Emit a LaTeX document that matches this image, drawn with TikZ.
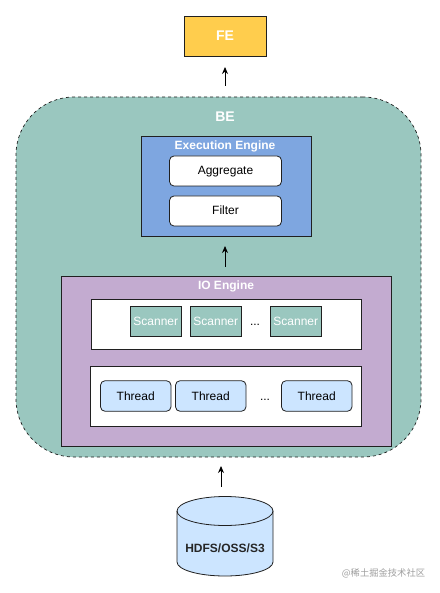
\documentclass[tikz,border=0pt]{standalone}
\usepackage{fontspec}
\setmainfont{Liberation Sans}
\newfontfamily\cjkwm{Noto Sans CJK SC}
\usetikzlibrary{arrows.meta}
\definecolor{feY}{HTML}{FFCD4D}
\definecolor{beG}{HTML}{9AC7BF}
\definecolor{exB}{HTML}{7EA6E0}
\definecolor{ioP}{HTML}{C3ABD0}
\definecolor{thB}{HTML}{CCE5FF}
\definecolor{edgeC}{HTML}{202020}
\tikzset{
  box/.style={draw=edgeC,line width=0.8pt,inner sep=0pt,outer sep=0pt,font=\fontsize{12}{14}\selectfont,text=black},
  title/.style={inner sep=0pt,text=white,font=\bfseries\fontsize{12}{14}\selectfont},
  rbox/.style={box,fill=white,rounded corners=4.5pt,minimum width=112pt,minimum height=30pt,text height=8.6pt,text depth=2.5pt},
  scan/.style={box,fill=beG,text=white,minimum width=50.5pt,minimum height=30pt},
  thr/.style={box,fill=thB,rounded corners=4.5pt,minimum width=70.5pt,minimum height=30.5pt},
  dots/.style={inner sep=0pt,font=\fontsize{12}{14}\selectfont},
  link/.style={-{Stealth[length=7pt,width=6pt]},line width=0.9pt,draw=black},
}
\begin{document}
\begin{tikzpicture}[x=1pt,y=-1pt]
\useasboundingbox (0,0) rectangle (439,593);
% FE
\node[box,fill=feY,minimum width=82pt,minimum height=40pt,text=white,font=\bfseries\fontsize{14}{16}\selectfont] (fe) at (225,36) {FE};
% BE
\node[box,fill=beG,dashed,minimum width=405pt,minimum height=360pt,rounded corners=58pt,line width=0.7pt] (be) at (218.5,277) {};
\node[title,font=\bfseries\fontsize{14}{16}\selectfont] (belabel) at (225,116.5) {BE};
% Execution engine
\node[box,fill=exB,minimum width=170pt,minimum height=100pt] (exec) at (226,186) {};
\node[title] (exlabel) at (225,146) {Execution Engine};
\node[rbox] (agg) at (225.5,171) {Aggregate};
\node[rbox] (fil) at (225.5,211) {Filter};
% IO engine
\node[box,fill=ioP,minimum width=330pt,minimum height=170pt] (io) at (226.5,361.5) {};
\node[title] (iolabel) at (226,286) {IO Engine};
\node[box,fill=white,minimum width=270pt,minimum height=50pt] (sbox) at (226.5,324) {};
\node[scan] (s1) at (155.75,321.5) {Scanner};
\node[scan] (s2) at (215.75,321.5) {Scanner};
\node[dots] (sd) at (255,325) {...};
\node[scan] (s3) at (295.75,321.5) {Scanner};
\node[box,fill=white,minimum width=271pt,minimum height=60pt] (tbox) at (226,396.5) {};
\node[thr] (t1) at (135.75,396) {Thread};
\node[thr] (t2) at (210.75,396) {Thread};
\node[dots] (td) at (265,400) {...};
\node[thr] (t3) at (316.75,396) {Thread};
% Storage cylinder
\draw[draw=edgeC,line width=0.8pt,fill=thB] (177,511) -- (177,562) arc[start angle=180,end angle=360,x radius=48pt,y radius=14pt] -- (273,511) arc[start angle=0,end angle=180,x radius=48pt,y radius=14.5pt] -- cycle;
\draw[draw=edgeC,line width=0.8pt] (177,511) arc[start angle=180,end angle=360,x radius=48pt,y radius=14.5pt];
\coordinate (dbtop) at (225,496.5);
\node[inner sep=0pt,text=black!85,font=\bfseries\fontsize{12}{14}\selectfont] (db) at (225,548) {HDFS/OSS/S3};
% Connectors
\draw[link,shorten <=11pt,shorten >=11pt] (fe.south |- be.north) -- (fe.south);
\draw[link,shorten <=10pt,shorten >=10pt] (io.north -| exlabel) -- (exec.south -| exlabel);
\draw[link,shorten <=10pt,shorten >=9pt] ([xshift=-4pt]dbtop) -- ([xshift=-4pt]dbtop |- be.south);
% Watermark
\node[inner sep=0pt,text=black!38,font=\cjkwm\fontsize{9.3}{12}\selectfont] (wm) at (383.5,573.5) {@稀土掘金技术社区};
\end{tikzpicture}
\end{document}
